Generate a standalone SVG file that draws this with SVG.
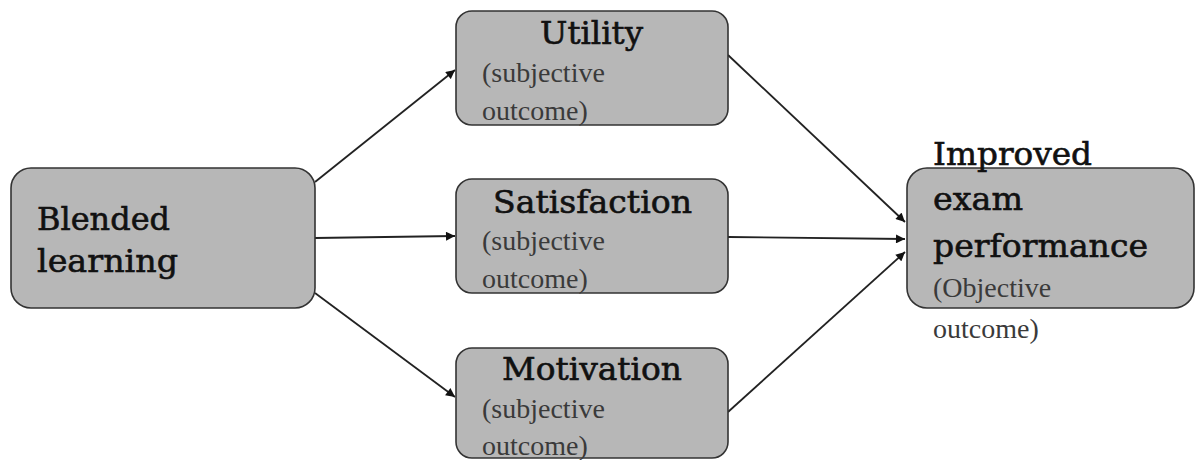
<svg xmlns="http://www.w3.org/2000/svg" width="1195" height="460" viewBox="0 0 1195 460">
<style>
.box{fill:#b7b7b7;stroke:#333;stroke-width:1.6}
.t{font-family:"DejaVu Serif",serif;font-size:32px;fill:#111;stroke:#111;stroke-width:0.6}
.s{font-family:"Liberation Serif","Times New Roman",serif;font-size:28px;fill:#3a3a3a}
.c{stroke:#222;stroke-width:1.8;fill:none;marker-end:url(#ah)}
</style>
<defs>
<marker id="ah" viewBox="0 0 10 10" refX="10" refY="5" markerWidth="10" markerHeight="9" markerUnits="userSpaceOnUse" orient="auto">
<path d="M0,0 L10,5 L0,10 z" fill="#111"/>
</marker>
</defs>
<rect width="1195" height="460" fill="#fff"/>
<g id="connectors">
<line class="c" x1="315" y1="182" x2="455" y2="70"/>
<line class="c" x1="315" y1="238" x2="455" y2="236"/>
<line class="c" x1="315" y1="293" x2="455" y2="397"/>
<line class="c" x1="728" y1="55" x2="905" y2="222"/>
<line class="c" x1="728" y1="237" x2="905" y2="239"/>
<line class="c" x1="728" y1="412" x2="905" y2="252"/>
</g>
<g id="blended">
<rect class="box" x="11" y="168" width="304" height="140" rx="20"/>
<text class="t" x="37" y="230" textLength="133" lengthAdjust="spacingAndGlyphs">Blended</text>
<text class="t" x="37" y="272" textLength="141" lengthAdjust="spacingAndGlyphs">learning</text>
</g>
<g id="utility">
<rect class="box" x="456" y="11" width="272" height="114" rx="16"/>
<text class="t" x="540" y="44" textLength="103" lengthAdjust="spacingAndGlyphs">Utility</text>
<text class="s" x="482" y="82">(subjective</text>
<text class="s" x="482" y="120">outcome)</text>
</g>
<g id="satisfaction">
<rect class="box" x="456" y="179" width="272" height="114" rx="16"/>
<text class="t" x="493" y="213" textLength="199" lengthAdjust="spacingAndGlyphs">Satisfaction</text>
<text class="s" x="482" y="250">(subjective</text>
<text class="s" x="482" y="288">outcome)</text>
</g>
<g id="motivation">
<rect class="box" x="456" y="348" width="272" height="110" rx="16"/>
<text class="t" x="502" y="380" textLength="180" lengthAdjust="spacingAndGlyphs">Motivation</text>
<text class="s" x="482" y="418">(subjective</text>
<text class="s" x="482" y="455">outcome)</text>
</g>
<g id="improved">
<rect class="box" x="907" y="168" width="287" height="140" rx="20"/>
<text class="t" x="933" y="165" textLength="159" lengthAdjust="spacingAndGlyphs">Improved</text>
<text class="t" x="933" y="210" textLength="90" lengthAdjust="spacingAndGlyphs">exam</text>
<text class="t" x="933" y="257" textLength="215" lengthAdjust="spacingAndGlyphs">performance</text>
<text class="s" x="933" y="297">(Objective</text>
<text class="s" x="933" y="338">outcome)</text>
</g>
</svg>
